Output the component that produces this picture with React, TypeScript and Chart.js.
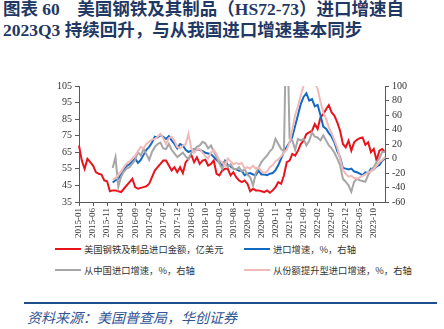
import React, { useEffect, useRef } from "react";
import { Chart, registerables } from "chart.js";

Chart.register(...registerables);

// ---- data ----
const startYear = 2015;
const monthCount = 110; // 2015-01 .. 2024-02
const categories: string[] = [];
for (let i = 0; i < monthCount; i++) {
  const y = startYear + Math.floor(i / 12);
  const m = (i % 12) + 1;
  categories.push(`${y}-${m < 10 ? "0" + m : m}`);
}

const importValue: number[] = [
  69, 60, 55, 61, 59, 57, 53, 52, 51.5, 48, 47.5, 41.5,
  42, 42, 41.5, 41, 43, 45, 47, 49, 44, 43, 43.5, 44,
  44.5, 46, 50, 54, 56, 58, 60, 60, 57, 54, 56, 53,
  56, 52.5, 59, 61, 63.5, 59, 62, 58, 60, 60.5, 57, 58,
  60, 52, 51, 54, 55, 55, 51, 53, 50, 48, 47, 48,
  46, 41.5, 43, 42, 42, 41.5, 41, 42, 40.6, 42, 44, 47,
  46, 51, 59, 60, 64, 63, 66, 70, 72, 76, 77, 78,
  82, 79, 86, 88, 91, 93.5, 89, 87, 83, 78, 70, 68,
  72, 66, 71, 72.5, 73.5, 74, 69.5, 71, 65, 67, 60, 66,
  67, 65,
];

const N12 = [null, null, null, null, null, null, null, null, null, null, null, null];

const importGrowth: (number | null)[] = [
  ...N12,
  -33, -30, -28, -22, -15, -10, -8, -4, 0, -6, -2, 5,
  12, 16, 22, 30, 29, 32, 30, 27, 31, 25, 20, 14,
  20, 18, 12, 9, 11, 13, 12, 12, 10, 8, 7, 6,
  2, -2, -5, -10, -3, -9, -11, -14, -15, -17, -17, -23,
  -21, -20, -22, -23, -17, -22, -22, -23, -21, -20, -16, -9,
  0, 9, 16, 22, 30, 45, 60, 75, 85, 90, 80, 82,
  72, 74, 60, 44, 41, 35, 30, 22, 10, 2, -13, -14,
  -15, -14, -18, -19, -21, -23, -19, -20, -14, -15, -11, -9,
  -3, 0,
];

const chinaGrowth: (number | null)[] = [
  ...N12,
  -13, 2, -39, -25, -18, -14, -12, -7, -2, 9, 4, 13,
  6, -2, 9, 16, 20, 22, 14, 13, 20, 12, 7, 2,
  5, 8, 3, -1, 8, 12, 16, 18, 23, 21, 14, 18,
  10, 2, -7, -14, -5, -12, -8, -14, -15, -12, -18, -15,
  -22, -26, -37, -20, -12, -5, 0, 4, 10, 14, 27, 20,
  13, 10, 220, 28, 25, 12, 27, 25, 27, 18, 24, 36,
  30, 29, 25, 32, 25, 18, 14, 8, 0, -9, -28, -32,
  -37, -46, -32, -28, -30, -31, -32, -23, -16, -12, -5, 0,
  9, 9,
];

const shareUpGrowth: (number | null)[] = [
  ...N12,
  -30, -27, -22, -18, -12, -7, -4, 0, 4, 10, 16, 14,
  20, 23, 26, 27, 30, 34, 28, 20, 28, 30, 24, 16,
  14, 18, 20, 34, 14, 8, 12, 13, 8, 3, 0, 8,
  12, 6, -2, -5, -10, 0, -4, -8, -6, -8, -6, -14,
  -12, -14, -10, -14, -12, -18, -20, -18, -12, -9, -4, -1,
  3, 8, 12, 22, 40, 60, 72, 87, 100, 108, 112, 110,
  104, 96, 78, 64, 55, 43, 35, 25, 15, 0, -16, -21,
  -25, -24, -27, -28, -26, -24, -22, -19, -18, -15, -10, -5,
  -2, 2,
];

const seriesNames = [
  "美国钢铁及制品进口金额，亿美元",
  "进口增速，%，右轴",
  "从中国进口增速，%，右轴",
  "从份额提升型进口增速，%，右轴",
];
const seriesColors = ["#E8141C", "#1469C4", "#A6A6A6", "#F2B9B9"];

const titleLines = [
  "图表 60\u00a0\u00a0\u00a0\u00a0美国钢铁及其制品（HS72-73）进口增速自",
  "2023Q3 持续回升，与从我国进口增速基本同步",
];
const sourceText = "资料来源：美国普查局，华创证券";

const axisColor = "#595959";
const tickFont = { family: "'Liberation Serif', 'DejaVu Serif', serif", size: 10 };

export default function App() {
  const canvasRef = useRef<HTMLCanvasElement | null>(null);

  useEffect(() => {
    const canvas = canvasRef.current;
    if (!canvas) return;
    const datasets = [
      { data: importValue, yAxisID: "y", order: 3 },
      { data: importGrowth, yAxisID: "y1", order: 2 },
      { data: chinaGrowth, yAxisID: "y1", order: 1 },
      { data: shareUpGrowth, yAxisID: "y1", order: 0 },
    ].map((d, i) => ({
      label: seriesNames[i],
      data: d.data,
      yAxisID: d.yAxisID,
      order: d.order,
      borderColor: seriesColors[i],
      backgroundColor: seriesColors[i],
      borderWidth: 2,
      pointRadius: 0,
      tension: 0,
      fill: false,
    }));

    const chart = new Chart(canvas, {
      type: "line",
      data: { labels: categories, datasets: datasets as any },
      options: {
        responsive: false,
        maintainAspectRatio: false,
        animation: false,
        layout: { padding: { top: 46, left: 0, right: 0, bottom: 0 } },
        plugins: { legend: { display: false }, tooltip: { enabled: false } },
        scales: {
          x: {
            type: "category",
            offset: false,
            grid: {
              display: true,
              drawOnChartArea: false,
              drawTicks: true,
              tickLength: 4,
              color: axisColor,
              offset: false,
            },
            border: { display: true, color: axisColor },
            ticks: {
              autoSkip: false,
              maxRotation: 90,
              minRotation: 90,
              padding: 2,
              color: "#333333",
              font: { family: tickFont.family, size: 9 },
            },
            afterBuildTicks: (scale: any) => {
              scale.ticks = scale.ticks.filter((t: any) => t.value % 5 === 0);
            },
            afterFit: (scale: any) => {
              scale.height = 38;
            },
          },
          y: {
            position: "left",
            min: 35,
            max: 105,
            grid: { drawOnChartArea: false, drawTicks: true, tickLength: 4, color: axisColor },
            border: { display: true, color: axisColor },
            ticks: { stepSize: 10, autoSkip: false, padding: 3, color: "#333333", font: tickFont },
            afterFit: (scale: any) => {
              scale.width = 79;
            },
          },
          y1: {
            position: "right",
            min: -60,
            max: 100,
            grid: { drawOnChartArea: false, drawTicks: true, tickLength: 4, color: axisColor },
            border: { display: true, color: axisColor },
            ticks: { stepSize: 20, autoSkip: false, padding: 3, color: "#333333", font: tickFont },
            afterFit: (scale: any) => {
              scale.width = 59;
            },
          },
        },
      } as any,
    });
    return () => chart.destroy();
  }, []);

  const legendItem = (i: number, left: number, top: number) => (
    <div
      key={i}
      style={{
        position: "absolute",
        left,
        top: top - 7,
        height: 14,
        display: "flex",
        alignItems: "center",
        whiteSpace: "nowrap",
      }}
    >
      <span
        style={{
          display: "inline-block",
          width: 26,
          height: 2,
          background: seriesColors[i],
          marginRight: 3,
        }}
      />
      <span
        style={{
          fontFamily: "'Noto Sans CJK SC', sans-serif",
          fontSize: 9.3,
          color: "#333333",
        }}
      >
        {seriesNames[i]}
      </span>
    </div>
  );

  return (
    <div
      style={{
        position: "absolute",
        left: 0,
        top: 0,
        width: 444,
        height: 329,
        background: "#ffffff",
        overflow: "hidden",
      }}
    >
      <div
        style={{
          position: "absolute",
          left: 3,
          top: -1,
          fontFamily: "'Liberation Serif', 'Noto Sans CJK SC', serif",
          fontWeight: "bold",
          fontSize: 17.5,
          lineHeight: "21px",
          color: "#1F3864",
          whiteSpace: "nowrap",
        }}
      >
        <div>{titleLines[0]}</div>
        <div>{titleLines[1]}</div>
      </div>
      <canvas
        ref={canvasRef}
        width={444}
        height={200}
        style={{ position: "absolute", left: 0, top: 40, width: 444, height: 200 }}
      />
      {legendItem(0, 55, 249)}
      {legendItem(1, 244, 249)}
      {legendItem(2, 55, 270)}
      {legendItem(3, 244, 270)}
      <div
        style={{
          position: "absolute",
          left: 24,
          top: 302,
          width: 413,
          height: 2,
          background: "#1F4E8C",
        }}
      />
      <div
        style={{
          position: "absolute",
          left: 27,
          top: 308,
          fontFamily: "'Noto Sans CJK SC', sans-serif",
          fontStyle: "italic",
          fontSize: 14,
          lineHeight: "18px",
          color: "#2F5597",
          whiteSpace: "nowrap",
        }}
      >
        {sourceText}
      </div>
    </div>
  );
}
